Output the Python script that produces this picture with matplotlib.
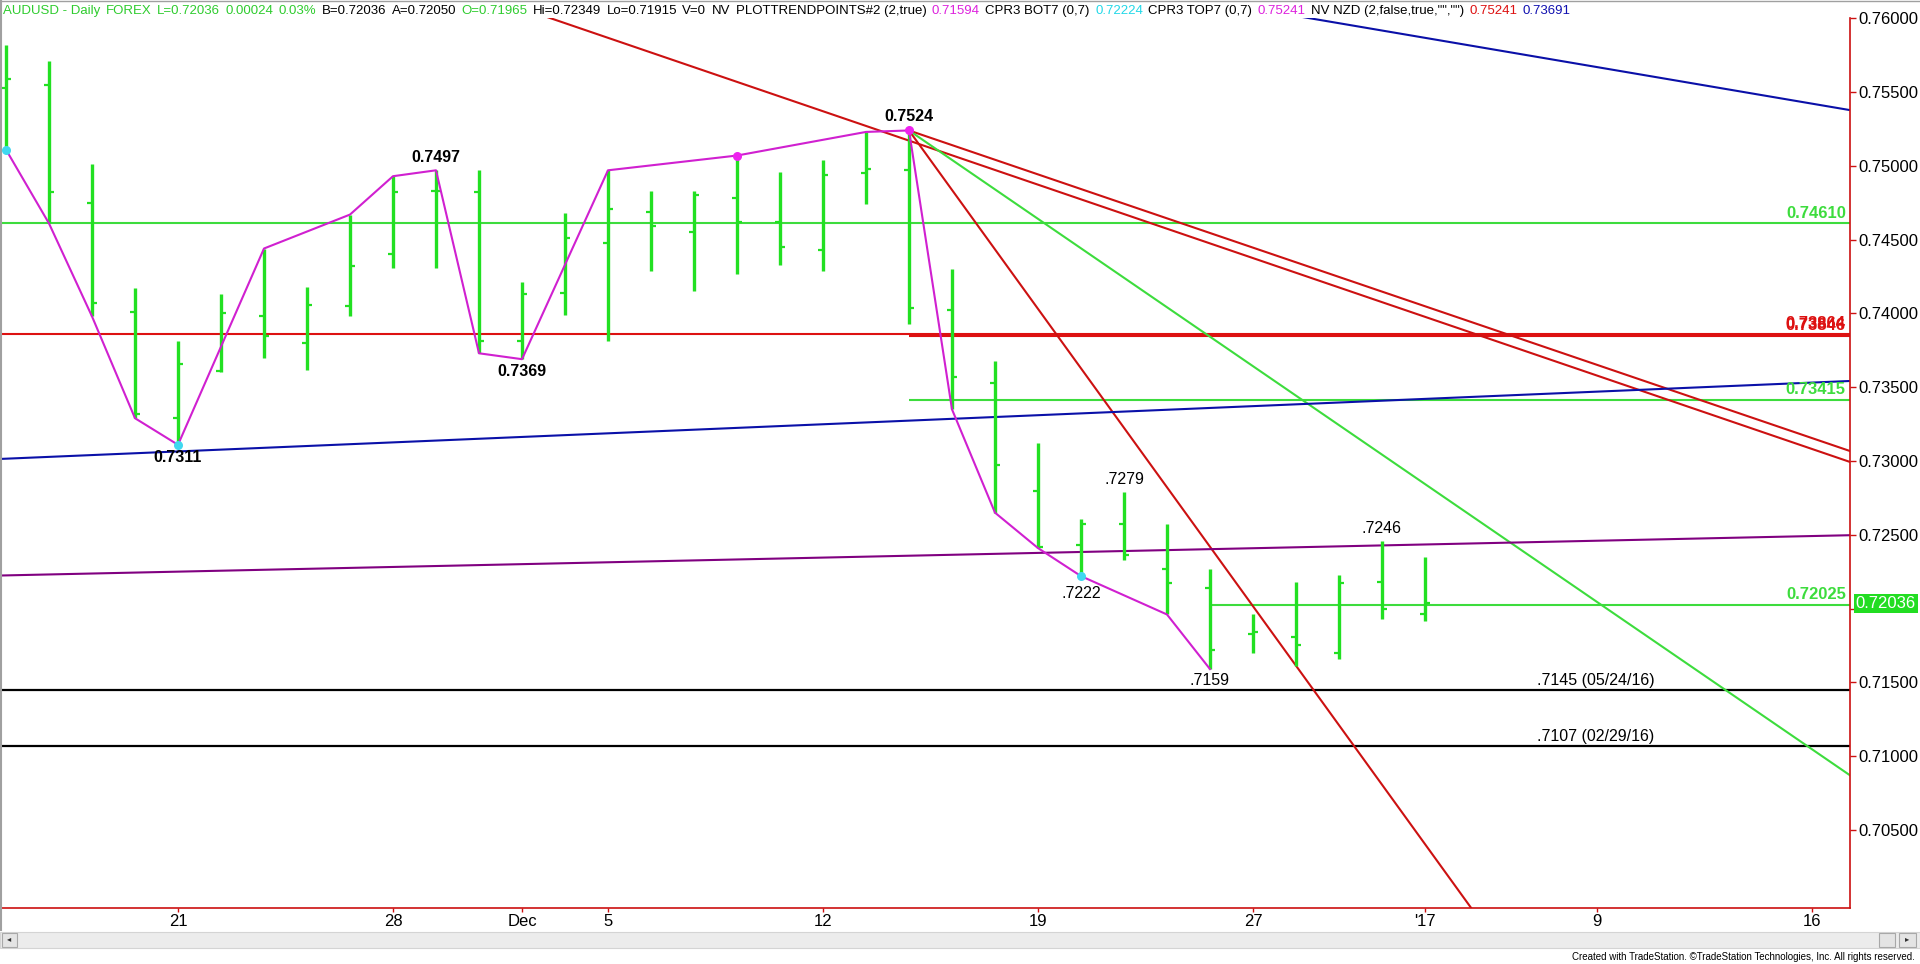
import matplotlib
matplotlib.use('Agg')
import matplotlib.pyplot as plt
from matplotlib.patches import Rectangle
from matplotlib.lines import Line2D
import numpy as np

plt.rcParams['font.family'] = ['Liberation Sans', 'DejaVu Sans']

# AUDUSD daily bars, bar 0 = Nov 15 2016, last bar = Jan 2 2017
opens = [0.7553, 0.7555, 0.7475, 0.7401, 0.7329, 0.7361, 0.7398, 0.7380, 0.7405, 0.7440,
         0.7483, 0.7482, 0.7381, 0.7414, 0.7448, 0.7469, 0.7455, 0.7478, 0.7462, 0.7443,
         0.7495, 0.7497, 0.7402, 0.7353, 0.7280, 0.7243, 0.7257, 0.7227, 0.7214, 0.7183,
         0.7181, 0.7170, 0.7218, 0.71965]
highs = [0.7582, 0.7571, 0.7501, 0.7417, 0.7381, 0.7413, 0.7444, 0.7418, 0.7467, 0.7493,
         0.7497, 0.7497, 0.7421, 0.7468, 0.7497, 0.7483, 0.7483, 0.7507, 0.7496, 0.7504,
         0.7523, 0.7524, 0.7430, 0.7368, 0.7312, 0.7261, 0.7279, 0.7257, 0.7227, 0.7196,
         0.7218, 0.7223, 0.7246, 0.72349]
lows = [0.7511, 0.7461, 0.7398, 0.7329, 0.7311, 0.7360, 0.7370, 0.7362, 0.7398, 0.7431,
        0.7431, 0.7373, 0.7369, 0.7399, 0.7381, 0.7429, 0.7415, 0.7427, 0.7433, 0.7429,
        0.7474, 0.7393, 0.7335, 0.7265, 0.7241, 0.7222, 0.7233, 0.7196, 0.7159, 0.7170,
        0.7161, 0.7166, 0.7193, 0.71915]
closes = [0.7559, 0.7482, 0.7407, 0.7332, 0.7366, 0.7400, 0.7385, 0.7406, 0.7432, 0.7482,
          0.7483, 0.7381, 0.7413, 0.7451, 0.7471, 0.7459, 0.7480, 0.7462, 0.7445, 0.7494,
          0.7498, 0.7404, 0.7357, 0.7297, 0.7242, 0.7257, 0.7236, 0.7217, 0.7172, 0.7184,
          0.7175, 0.7217, 0.7200, 0.72036]

date_ticks = [4, 9, 12, 14, 19, 24, 29, 33, 37, 42]
date_labels = ['21', '28', 'Dec', '5', '12', '19', '27', "'17", '9', '16']
price_ticks = [0.705, 0.710, 0.715, 0.720, 0.725, 0.730, 0.735, 0.740, 0.745, 0.750, 0.755, 0.760]

# swing line (PLOTTRENDPOINTS)
zz_x = [0, 1, 2, 3, 4, 6, 8, 9, 10, 11, 12, 14, 17, 20, 21, 22, 23, 24, 25, 27, 28]
zz_y = [0.7511, 0.7461, 0.7398, 0.7329, 0.7311, 0.7444, 0.7467, 0.7493, 0.7497, 0.7373,
        0.7369, 0.7497, 0.7507, 0.7523, 0.7524, 0.7335, 0.7265, 0.7241, 0.7222, 0.7196, 0.7159]
cyan_x = [0, 4, 25]
cyan_y = [0.7511, 0.7311, 0.7222]
pink_x = [17, 21]
pink_y = [0.7507, 0.7524]

# pivot labels: text, bar, price, pixel offset, bold
piv_text = ['0.7311', '0.7497', '0.7369', '0.7524', '.7279', '.7222', '.7159', '.7246']
piv_x = [4, 10, 12, 21, 26, 25, 28, 32]
piv_y = [0.7311, 0.7497, 0.7369, 0.7524, 0.7279, 0.7222, 0.7159, 0.7246]
piv_dy = [-13, 13, -12, 14, 12, -17, -11, 12]
piv_bold = [True, True, True, True, False, False, False, False]

# horizontal levels: price, start bar, colour, label
lvl_price = [0.74610, 0.73864, 0.73846, 0.73415, 0.72025]
lvl_start = [-1, -1, 21, 21, 28]
lvl_color = ['#3ddc3d', '#dd1111', '#dd1111', '#3ddc3d', '#3ddc3d']
lvl_label = ['0.74610', '0.73864', '0.73846', '0.73415', '0.72025']
black_price = [0.7145, 0.7107]
black_label = ['.7145 (05/24/16)', '.7107 (02/29/16)']

# trendlines: (bar0, price0, bar1, price1, colour, extend left)
trend_lines = [
    (12.67, 0.76000, 42.86, 0.72996, '#cc1111', True),
    (21, 0.7524, 42.86, 0.7307, '#cc1111', False),
    (21, 0.7524, 35.0, 0.69598, '#cc1111', False),
    (21, 0.7524, 42.86, 0.70875, '#3ddc3d', False),
    (-0.14, 0.73014, 42.86, 0.73542, '#0a10a8', True),
    (30.33, 0.76000, 42.86, 0.75379, '#0a10a8', True),
    (-0.14, 0.72224, 42.86, 0.72497, '#800080', True),
]

# header segments and their colours
header_text = ['AUDUSD - Daily', 'FOREX', 'L=0.72036', '0.00024', '0.03%', 'B=0.72036',
               'A=0.72050', 'O=0.71965', 'Hi=0.72349', 'Lo=0.71915', 'V=0', 'NV',
               'PLOTTRENDPOINTS#2 (2,true)', '0.71594', 'CPR3 BOT7 (0,7)', '0.72224',
               'CPR3 TOP7 (0,7)', '0.75241', 'NV NZD (2,false,true,"","")', '0.75241', '0.73691']
header_color = ['#2ecc2e', '#2ecc2e', '#2ecc2e', '#2ecc2e', '#2ecc2e', 'black',
                'black', '#2ecc2e', 'black', 'black', 'black', 'black',
                'black', '#dd22dd', 'black', '#22d8e8',
                'black', '#dd22dd', 'black', '#dd1111', '#1010b0']

W, H = 1920, 964
BAR = '#22e022'
AXC = '#cc1111'

fig = plt.figure(figsize=(W / 100, H / 100), dpi=100)
fig.patch.set_facecolor('white')
ax = fig.add_axes([2 / W, 1 - 908 / H, 1848 / W, (908 - 18.3) / H])
ax.set_xlim(-0.093, 42.884)
ax.set_ylim(0.69971, 0.76)

# horizontal levels
for p, s, c in zip(lvl_price, lvl_start, lvl_color):
    ax.hlines(p, s, 44, color=c, lw=1.5, zorder=2)
for p in black_price:
    ax.hlines(p, -1, 44, color='black', lw=1.6, zorder=2)

# trendlines
for x0, y0, x1, y1, c, ext in trend_lines:
    k = (y1 - y0) / (x1 - x0)
    xs = np.array([-1.0 if ext else x0, 44.0])
    ax.plot(xs, y0 + k * (xs - x0), color=c, lw=1.5, zorder=2)

# OHLC bars
idx = np.arange(len(opens))
ax.vlines(idx, lows, highs, color=BAR, lw=2.4, zorder=3)
ax.hlines(opens, idx - 0.12, idx, color=BAR, lw=1.6, zorder=3)
ax.hlines(closes, idx, idx + 0.12, color=BAR, lw=1.6, zorder=3)

# swing line and pivots
ax.plot(zz_x, zz_y, color='#d020d0', lw=1.5, zorder=4)
ax.scatter(cyan_x, cyan_y, s=30, color='#40d8f0', zorder=5)
ax.scatter(pink_x, pink_y, s=30, color='#ee22ee', zorder=5)

for t, x, y, dy, b in zip(piv_text, piv_x, piv_y, piv_dy, piv_bold):
    ax.annotate(t, (x, y), xytext=(0, dy * 0.72), textcoords='offset points',
                ha='center', va='center', fontsize=11.5,
                weight='bold' if b else 'normal', color='black', zorder=6)

for p, c, t in zip(lvl_price, lvl_color, lvl_label):
    ax.annotate(t, (1, p), xycoords=('axes fraction', 'data'), xytext=(-3, 7.5),
                textcoords='offset points', ha='right', va='center',
                fontsize=12, weight='bold', color=c, zorder=6)
for p, t in zip(black_price, black_label):
    ax.annotate(t, (35.6, p), xytext=(0, 7), textcoords='offset points',
                ha='left', va='center', fontsize=11.5, color='black', zorder=6)

# axes styling
for side in ['left', 'top']:
    ax.spines[side].set_visible(False)
for side in ['right', 'bottom']:
    ax.spines[side].set_color(AXC)
    ax.spines[side].set_linewidth(1.2)
ax.yaxis.tick_right()
ax.set_yticks(price_ticks)
ax.set_yticklabels(['' if abs(v - 0.72) < 1e-9 else '%.5f' % v for v in price_ticks])
ax.tick_params(axis='y', length=4, width=1, color=AXC, labelsize=12, pad=2)
ax.set_xticks(date_ticks)
ax.set_xticklabels(date_labels)
ax.tick_params(axis='x', length=3, width=1, color=AXC, labelsize=12, pad=1)

# last price marker
ax.annotate('0.72036', (1, closes[-1]), xycoords=('axes fraction', 'data'),
            xytext=(4, 0), textcoords='offset points', ha='left', va='center',
            fontsize=12, color='white', annotation_clip=False, zorder=7,
            bbox=dict(boxstyle='square,pad=0.12', fc='#22dd22', ec='none'))

# header line: lay segments out one after another, spread to the reference width
hdr = [fig.text(0, 1 - 11 / H, t, color=c, fontsize=9.5, va='center', ha='left')
       for t, c in zip(header_text, header_color)]
fig.canvas.draw()
rend = fig.canvas.get_renderer()
widths = [h.get_window_extent(rend).width for h in hdr]
gap = (1571 - 3 - sum(widths)) / (len(hdr) - 1)
xpos = 3.0
for h, w in zip(hdr, widths):
    h.set_x(xpos / W)
    xpos += w + gap

# window border, scroll bar and credit
fig.add_artist(Line2D([0, 1], [1 - 0.5 / H, 1 - 0.5 / H], color='#a0a0a0', lw=1))
fig.add_artist(Line2D([0.5 / W, 0.5 / W], [1 - 930 / H, 1], color='#a0a0a0', lw=1.5))
fig.add_artist(Rectangle((0, 1 - 948 / H), 1, 16 / H, transform=fig.transFigure,
                         fc='#ececec', ec='#d4d4d4', lw=0.8))
for x0, x1 in [(2, 17), (1879, 1895), (1899, 1916)]:
    fig.add_artist(Rectangle((x0 / W, 1 - 947 / H), (x1 - x0) / W, 14 / H,
                             transform=fig.transFigure, fc='#e4e4e4', ec='#a8a8a8', lw=0.8))
fig.text(9.5 / W, 1 - 940 / H, '\u25c2', fontsize=6, ha='center', va='center', color='#303030')
fig.text(1907.5 / W, 1 - 940 / H, '\u25b8', fontsize=6, ha='center', va='center', color='#303030')
fig.text(1915 / W, 1 - 957 / H,
         'Created with TradeStation. \u00a9TradeStation Technologies, Inc. All rights reserved.',
         fontsize=7, ha='right', va='center', color='black')

fig.savefig('out.png', dpi=100, facecolor='white')
